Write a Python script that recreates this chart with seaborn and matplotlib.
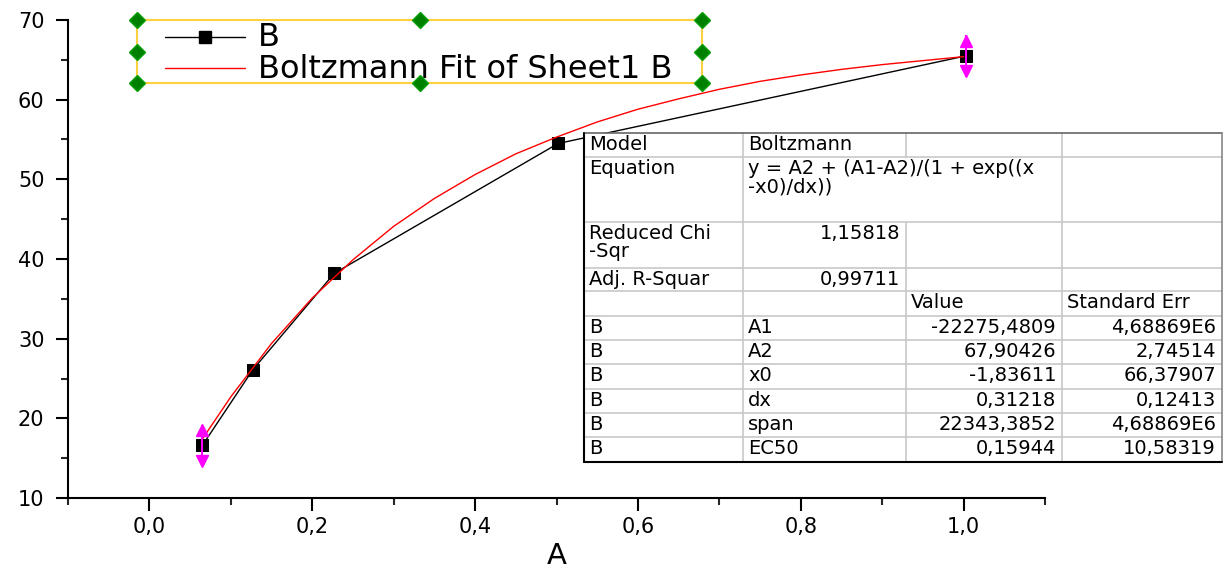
import matplotlib
matplotlib.use("Agg")
import matplotlib.pyplot as plt
import seaborn as sns
import pandas as pd
from matplotlib.ticker import MultipleLocator, FuncFormatter

# ---------------- data ----------------
x_data = [0.065, 0.127, 0.227, 0.502, 1.003]
y_data = [16.6, 26.1, 38.2, 54.5, 65.5]
y_err = [2.6, 0, 0, 0, 2.6]

fit_x = [0.065, 0.1, 0.15, 0.2, 0.25, 0.3, 0.35, 0.4, 0.45, 0.5,
         0.55, 0.6, 0.65, 0.7, 0.75, 0.8, 0.85, 0.9, 0.95, 1.0]
fit_y = [17.4, 22.7, 29.4, 35.1, 39.9, 44.1, 47.6, 50.6, 53.2, 55.3,
         57.2, 58.8, 60.1, 61.3, 62.3, 63.1, 63.8, 64.4, 64.9, 65.4]

series_label = "B"
fit_label = "Boltzmann Fit of Sheet1 B"
x_label = "A"

table_rows = [
    ["Model", "Boltzmann", "", ""],
    ["Equation", "y = A2 + (A1-A2)/(1 + exp((x\n-x0)/dx))", "", ""],
    ["Reduced Chi\n-Sqr", "1,15818", "", ""],
    ["Adj. R-Squar", "0,99711", "", ""],
    ["", "", "Value", "Standard Err"],
    ["B", "A1", "-22275,4809", "4,68869E6"],
    ["B", "A2", "67,90426", "2,74514"],
    ["B", "x0", "-1,83611", "66,37907"],
    ["B", "dx", "0,31218", "0,12413"],
    ["B", "span", "22343,3852", "4,68869E6"],
    ["B", "EC50", "0,15944", "10,58319"],
]
# ---------------------------------------

sns.set_style("white")
plt.rcParams["font.family"] = ["DejaVu Sans"]

W, H = 1227, 575
fig = plt.figure(figsize=(W / 100, H / 100), dpi=100)
fig.patch.set_facecolor("white")

L, R, T, B = 68, 1045, 20, 498
ax = fig.add_axes([L / W, (H - B) / H, (R - L) / W, (B - T) / H])

df = pd.DataFrame({"x": x_data, "y": y_data})
dfit = pd.DataFrame({"x": fit_x, "y": fit_y})

sns.lineplot(data=df, x="x", y="y", ax=ax, color="black", linewidth=1.0,
             marker="s", markersize=9, markeredgecolor="black",
             sort=False, zorder=3, legend=False)
sns.lineplot(data=dfit, x="x", y="y", ax=ax, color="red", linewidth=1.0,
             sort=False, zorder=4, legend=False)

# magenta error arrows
for xi, yi, ei in zip(x_data, y_data, y_err):
    if ei > 0:
        ax.vlines(xi, yi - ei, yi + ei, color="magenta", linewidth=1.5, zorder=5)
        ax.plot([xi], [yi + ei - 0.7], marker="^", color="magenta", markersize=9,
                linestyle="none", zorder=5)
        ax.plot([xi], [yi - ei + 0.7], marker="v", color="magenta", markersize=9,
                linestyle="none", zorder=5)

ax.set_xlim(-0.1, 1.1)
ax.set_ylim(10, 70)
ax.xaxis.set_major_locator(MultipleLocator(0.2))
ax.xaxis.set_minor_locator(MultipleLocator(0.1))
ax.yaxis.set_major_locator(MultipleLocator(10))
ax.yaxis.set_minor_locator(MultipleLocator(5))
ax.xaxis.set_major_formatter(FuncFormatter(lambda v, p: f"{v:.1f}".replace(".", ",").replace("-0,0", "0,0")))
ax.yaxis.set_major_formatter(FuncFormatter(lambda v, p: f"{v:.0f}"))

for s in ["top", "right"]:
    ax.spines[s].set_visible(False)
for s in ["left", "bottom"]:
    ax.spines[s].set_linewidth(1.5)
    ax.spines[s].set_color("black")

ax.tick_params(axis="both", which="major", direction="out", length=9, width=1.5,
               labelsize=15, colors="black", left=True, bottom=True)
ax.tick_params(axis="both", which="minor", direction="out", length=5, width=1.5,
               left=True, bottom=True)
ax.tick_params(axis="y", which="major", pad=8)
ax.tick_params(axis="x", which="major", pad=5)
ax.set_xlabel(x_label, fontsize=21, labelpad=3, color="black")
ax.set_ylabel("")

# overlay in pixel coordinates
ov = fig.add_axes([0, 0, 1, 1])
ov.set_xlim(0, W)
ov.set_ylim(H, 0)
ov.axis("off")
ov.patch.set_alpha(0)
ov.set_zorder(20)

# legend box (Origin style, with selection handles)
lx0, lx1, ly0, ly1 = 137, 702, 20, 83
ov.add_patch(plt.Rectangle((lx0, ly0), lx1 - lx0, ly1 - ly0, facecolor="white",
                           edgecolor="#FFD040", linewidth=1.5, zorder=1))
row1, row2 = 37, 68
hx0, hx1, tx = 165, 245, 258
ov.plot([hx0, hx1], [row1, row1], color="black", linewidth=1.0, zorder=2)
ov.plot([(hx0 + hx1) / 2], [row1], marker="s", markersize=9, color="black",
        linestyle="none", zorder=3)
ov.plot([hx0, hx1], [row2, row2], color="red", linewidth=1.0, zorder=2)
ov.text(tx, row1 + 1, series_label, fontsize=23, va="center", ha="left", color="black", zorder=3)
ov.text(tx, row2 + 1, fit_label, fontsize=23, va="center", ha="left", color="black", zorder=3)
xs = [lx0, (lx0 + lx1) / 2, lx1]
ys = [ly0, (ly0 + ly1) / 2, ly1]
for j, yy in enumerate(ys):
    for i, xx in enumerate(xs):
        if i == 1 and j == 1:
            continue
        ov.plot([xx], [yy], marker="D", markersize=8, color="#008000",
                markeredgecolor="#00A000", linestyle="none", zorder=4)

# table
col_x = [584, 743, 906, 1062, 1222]
row_y = [133, 157, 222, 268, 291, 316, 340, 364, 389, 413, 437, 462]
ov.add_patch(plt.Rectangle((col_x[0], row_y[0]), col_x[-1] - col_x[0],
                           row_y[-1] - row_y[0], facecolor="white",
                           edgecolor="none", zorder=1))
grid_c = "#c8c8c8"
for yy in row_y[1:-1]:
    ov.plot([col_x[0], col_x[-1]], [yy, yy], color=grid_c, linewidth=1.2, zorder=2)
for k, xx in enumerate(col_x[1:-1], start=1):
    if k == 2:
        ov.plot([xx, xx], [row_y[0], row_y[1]], color=grid_c, linewidth=1.2, zorder=2)
        ov.plot([xx, xx], [row_y[2], row_y[-1]], color=grid_c, linewidth=1.2, zorder=2)
    else:
        ov.plot([xx, xx], [row_y[0], row_y[-1]], color=grid_c, linewidth=1.2, zorder=2)
ov.plot([col_x[0], col_x[-1]], [row_y[0], row_y[0]], color="#666666", linewidth=1.2, zorder=3)
ov.plot([col_x[-1], col_x[-1]], [row_y[0], row_y[-1]], color="#888888", linewidth=1.2, zorder=3)
ov.plot([col_x[0], col_x[0]], [row_y[0], row_y[-1]], color="black", linewidth=1.5, zorder=3)
ov.plot([col_x[0], col_x[-1]], [row_y[-1], row_y[-1]], color="black", linewidth=1.5, zorder=3)

fs = 14
for r, row in enumerate(table_rows):
    top = row_y[r] + 2
    for c, txt in enumerate(row):
        if not txt:
            continue
        numeric = r in (2, 3) and c == 1 or (r >= 5 and c >= 2)
        if numeric:
            ov.text(col_x[c + 1] - 6, top, txt, ha="right", va="top",
                    fontsize=fs, color="black", zorder=4, linespacing=0.95)
        else:
            ov.text(col_x[c] + 5, top, txt, ha="left", va="top",
                    fontsize=fs, color="black", zorder=4, linespacing=0.95)

fig.savefig("out.png", dpi=100)
